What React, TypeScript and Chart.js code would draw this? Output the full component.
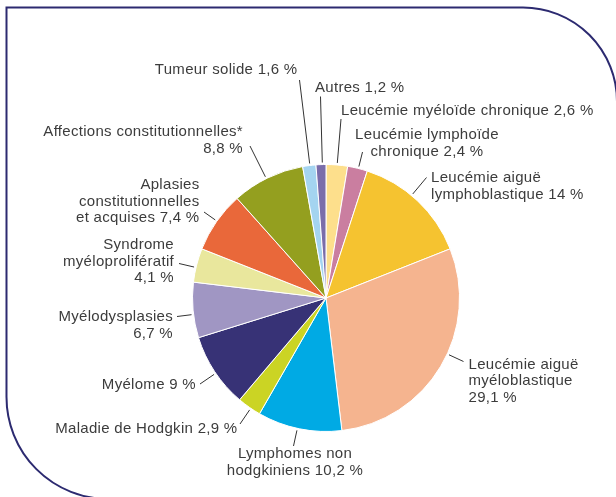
import React, { useEffect, useRef } from "react";
import { Chart, registerables } from "chart.js";

Chart.register(...registerables);

const CATEGORIES = [
  "Leucémie myéloïde chronique",
  "Leucémie lymphoïde chronique",
  "Leucémie aiguë lymphoblastique",
  "Leucémie aiguë myéloblastique",
  "Lymphomes non hodgkiniens",
  "Maladie de Hodgkin",
  "Myélome",
  "Myélodysplasies",
  "Syndrome myéloprolifératif",
  "Aplasies constitutionnelles et acquises",
  "Affections constitutionnelles*",
  "Tumeur solide",
  "Autres",
];

const VALUES = [2.6, 2.4, 14, 29.1, 10.2, 2.9, 9, 6.7, 4.1, 7.4, 8.8, 1.6, 1.2];

const COLORS = [
  "#FDDF8C",
  "#CA7EA0",
  "#F5C330",
  "#F5B48F",
  "#00AAE4",
  "#CBD424",
  "#373276",
  "#A096C3",
  "#E9E79D",
  "#E9683A",
  "#949F1F",
  "#A4D4F0",
  "#7A6DAA",
];

// Label text lines; {v} is replaced by the formatted value
const LABEL_LINES = [
  ["Leucémie myéloïde chronique {v}"],
  ["Leucémie lymphoïde", "chronique {v}"],
  ["Leucémie aiguë", "lymphoblastique {v}"],
  ["Leucémie aiguë", "myéloblastique", "{v}"],
  ["Lymphomes non", "hodgkiniens {v}"],
  ["Maladie de Hodgkin {v}"],
  ["Myélome {v}"],
  ["Myélodysplasies", "{v}"],
  ["Syndrome", "myéloprolifératif", "{v}"],
  ["Aplasies", "constitutionnelles", "et acquises {v}"],
  ["Affections constitutionnelles*", "{v}"],
  ["Tumeur solide {v}"],
  ["Autres {v}"],
];

// Annotation layout (text anchor, alignment, outer end of the leader line)
const LABEL_LAYOUT: { x: number; y: number; align: CanvasTextAlign; lx: number; ly: number }[] = [
  { x: 341, y: 110.5, align: "left", lx: 341, ly: 119 },
  { x: 427, y: 135, align: "center", lx: 362.5, ly: 152 },
  { x: 431, y: 178, align: "left", lx: 426.5, ly: 177.5 },
  { x: 468.5, y: 364.5, align: "left", lx: 463.5, ly: 361.5 },
  { x: 295, y: 454, align: "center", lx: 293.5, ly: 446 },
  { x: 237.5, y: 429, align: "right", lx: 240, ly: 424 },
  { x: 196, y: 385, align: "right", lx: 200, ly: 384 },
  { x: 173, y: 317, align: "right", lx: 177, ly: 316.5 },
  { x: 174, y: 245, align: "right", lx: 179, ly: 263.5 },
  { x: 199.5, y: 185, align: "right", lx: 204, ly: 212 },
  { x: 243, y: 132, align: "right", lx: 250, ly: 146 },
  { x: 297.5, y: 70, align: "right", lx: 299.5, ly: 80 },
  { x: 315, y: 88, align: "left", lx: 320.5, ly: 96.5 },
];

const LINE_HEIGHT = 16.5;
const FONT = '15px "Liberation Sans", Arial, sans-serif';
const LETTER_SPACING = "0.3px";
const TEXT_COLOR = "#3c3c3c";
const LEADER_COLOR = "#333333";
const FRAME_COLOR = "#2C2A70";

const fmt = (v: number) => String(v).replace(".", ",") + " %";

const framePlugin = {
  id: "frame",
  beforeDraw(chart: any) {
    const ctx = chart.ctx as CanvasRenderingContext2D;
    ctx.save();
    ctx.strokeStyle = FRAME_COLOR;
    ctx.lineWidth = 2;
    ctx.beginPath();
    const left = 6.5;
    const top = 7.5;
    const rTR = 94;
    const rBL = 102;
    const trStartX = 523;
    const blStartY = 397;
    ctx.moveTo(left + rBL, blStartY + rBL);
    ctx.arc(left + rBL, blStartY, rBL, Math.PI / 2, Math.PI, false);
    ctx.lineTo(left, top);
    ctx.lineTo(trStartX, top);
    ctx.arc(trStartX, top + rTR, rTR, -Math.PI / 2, 0, false);
    ctx.stroke();
    ctx.restore();
  },
};

const labelPlugin = {
  id: "outLabels",
  afterDatasetsDraw(chart: any) {
    const ctx = chart.ctx as CanvasRenderingContext2D;
    const meta = chart.getDatasetMeta(0);
    ctx.save();
    ctx.font = FONT;
    (ctx as any).letterSpacing = LETTER_SPACING;
    ctx.fillStyle = TEXT_COLOR;
    ctx.textBaseline = "middle";
    meta.data.forEach((arc: any, i: number) => {
      const lay = LABEL_LAYOUT[i];
      const { x: cx, y: cy, startAngle, endAngle, outerRadius } = arc.getProps(
        ["x", "y", "startAngle", "endAngle", "outerRadius"],
        true
      );
      // angle towards the label end, clamped inside the slice
      let a = Math.atan2(lay.ly - cy, lay.lx - cx);
      while (a < startAngle) a += Math.PI * 2;
      while (a > startAngle + Math.PI * 2) a -= Math.PI * 2;
      const margin = Math.min(0.02, (endAngle - startAngle) / 3);
      if (a > endAngle - margin) {
        const dEnd = a - endAngle;
        const dStart = startAngle + Math.PI * 2 - a;
        a = dEnd < dStart ? endAngle - margin : startAngle + margin;
      }
      if (a < startAngle + margin) a = startAngle + margin;
      const r0 = outerRadius + 2;
      const sx = cx + Math.cos(a) * r0;
      const sy = cy + Math.sin(a) * r0;
      ctx.strokeStyle = LEADER_COLOR;
      ctx.lineWidth = 1;
      ctx.beginPath();
      ctx.moveTo(sx, sy);
      ctx.lineTo(lay.lx, lay.ly);
      ctx.stroke();

      ctx.textAlign = lay.align;
      const lines = LABEL_LINES[i].map((l) => l.replace("{v}", fmt(VALUES[i])));
      lines.forEach((t, k) => {
        ctx.fillText(t, lay.x, lay.y + k * LINE_HEIGHT);
      });
    });
    ctx.restore();
  },
};

export default function App() {
  const ref = useRef<HTMLCanvasElement | null>(null);
  useEffect(() => {
    if (!ref.current) return;
    const chart = new Chart(ref.current, {
      type: "pie",
      data: {
        labels: CATEGORIES,
        datasets: [
          {
            data: VALUES,
            backgroundColor: COLORS,
            borderColor: "#ffffff",
            borderWidth: 1,
          },
        ],
      },
      options: {
        responsive: false,
        animation: false,
        events: [],
        layout: { padding: { left: 192, right: 156, top: 164, bottom: 65 } },
        plugins: {
          legend: { display: false },
          tooltip: { enabled: false },
        },
      },
      plugins: [framePlugin, labelPlugin],
    });
    return () => chart.destroy();
  }, []);
  return (
    <div style={{ position: "absolute", left: 0, top: 0, width: 616, height: 497, background: "#fff" }}>
      <canvas ref={ref} width={616} height={497} style={{ display: "block" }} />
    </div>
  );
}
